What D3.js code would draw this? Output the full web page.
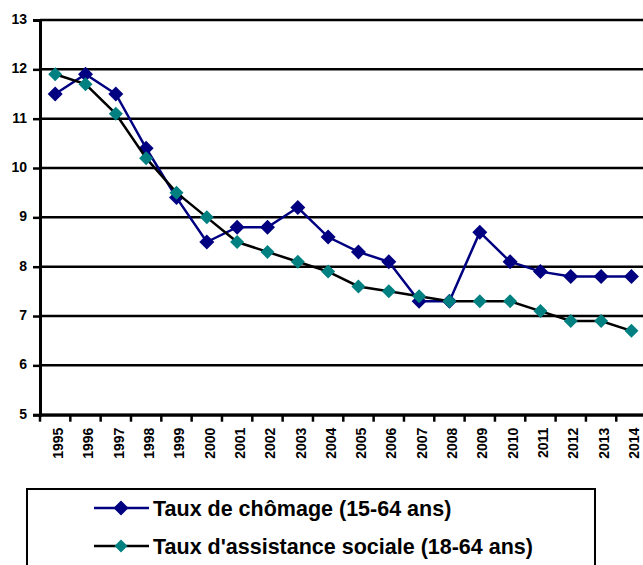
<!DOCTYPE html>
<html><head><meta charset="utf-8">
<script src="https://cdn.jsdelivr.net/npm/d3@7"></script>
<style>body{margin:0;background:#fff}svg{display:block;font-family:"Liberation Sans",Arial,sans-serif}</style>
</head><body><svg id="c" width="643" height="565"></svg>
<script>
const years = ["1995","1996","1997","1998","1999","2000","2001","2002","2003","2004","2005","2006","2007","2008","2009","2010","2011","2012","2013","2014"];
const chomage = [11.5,11.9,11.5,10.4,9.4,8.5,8.8,8.8,9.2,8.6,8.3,8.1,7.3,7.3,8.7,8.1,7.9,7.8,7.8,7.8];
const assistance = [11.9,11.7,11.1,10.2,9.5,9.0,8.5,8.3,8.1,7.9,7.6,7.5,7.4,7.3,7.3,7.3,7.1,6.9,6.9,6.7];
const yTicks = [5,6,7,8,9,10,11,12,13];
const seriesNames = ["Taux de chômage (15-64 ans)","Taux d'assistance sociale (18-64 ans)"];

const svg = d3.select("#c");
const L = 40, R = 646.6, T = 20, B = 414.7;
const x = d3.scaleBand().domain(years).range([L, R]);
const y = d3.scaleLinear().domain([5,13]).range([B, T]);

// gridlines
svg.append("g").selectAll("line").data(yTicks).join("line")
  .attr("x1", L).attr("x2", 643).attr("y1", d=>y(d)).attr("y2", d=>y(d))
  .attr("stroke","#000").attr("stroke-width",2.5);

// y axis
const ya = svg.append("g").attr("transform",`translate(${L},0)`)
  .call(d3.axisLeft(y).tickValues(yTicks).tickSize(7).tickPadding(6));
ya.select(".domain").attr("stroke-width",3);
ya.selectAll(".tick line").attr("stroke-width",2.5);
ya.selectAll("text").attr("font-size",14).attr("font-weight","bold").attr("fill","#000").attr("dy","0.25em");

// x axis
const xa = svg.append("g").attr("transform",`translate(0,${B})`)
  .call(d3.axisBottom(x).tickSize(0));
xa.select(".domain").attr("stroke-width",3);
xa.selectAll(".tick text")
  .attr("transform","rotate(-90)").attr("text-anchor","end")
  .attr("x",-13).attr("y",0).attr("dy","0.55em")
  .attr("font-size",14).attr("font-weight","bold").attr("fill","#000");
// boundary ticks
svg.append("g").selectAll("line").data(years.map((d,i)=>i).concat([years.length])).join("line")
  .attr("x1", i=>L + i*x.step()).attr("x2", i=>L + i*x.step())
  .attr("y1", B).attr("y2", B+7).attr("stroke","#000").attr("stroke-width",2.5);

const cx = d => x(d) + x.bandwidth()/2;
const diamond = h => `M0,${-h}L${h},0L0,${h}L${-h},0Z`;

function drawSeries(vals, lineColor, markerColor, h){
  const data = years.map((yr,i)=>({yr, v: vals[i]}));
  svg.append("path").datum(data)
    .attr("d", d3.line().x(d=>cx(d.yr)).y(d=>y(d.v)))
    .attr("fill","none").attr("stroke",lineColor).attr("stroke-width",2.5);
  svg.append("g").selectAll("path").data(data).join("path")
    .attr("d", diamond(h))
    .attr("transform", d=>`translate(${cx(d.yr)},${y(d.v)})`)
    .attr("fill", markerColor);
}
drawSeries(chomage, "#000080", "#000080", 7.5);
drawSeries(assistance, "#000000", "#008080", 7);

// legend
svg.append("rect").attr("x",27).attr("y",489).attr("width",568).attr("height",90)
  .attr("fill","none").attr("stroke","#000").attr("stroke-width",2);
const leg = [{name:seriesNames[0], lc:"#000080", mc:"#000080", yy:508, h:7.5},
             {name:seriesNames[1], lc:"#000000", mc:"#008080", yy:546, h:6.5}];
leg.forEach(d=>{
  svg.append("line").attr("x1",94).attr("x2",149).attr("y1",d.yy).attr("y2",d.yy)
    .attr("stroke",d.lc).attr("stroke-width",2.5);
  svg.append("path").attr("d",diamond(d.h)).attr("transform",`translate(121,${d.yy})`).attr("fill",d.mc);
  svg.append("text").attr("x",153).attr("y",d.yy).attr("dy","0.36em")
    .attr("font-size",21.5).attr("font-weight","bold").text(d.name);
});
</script></body></html>
